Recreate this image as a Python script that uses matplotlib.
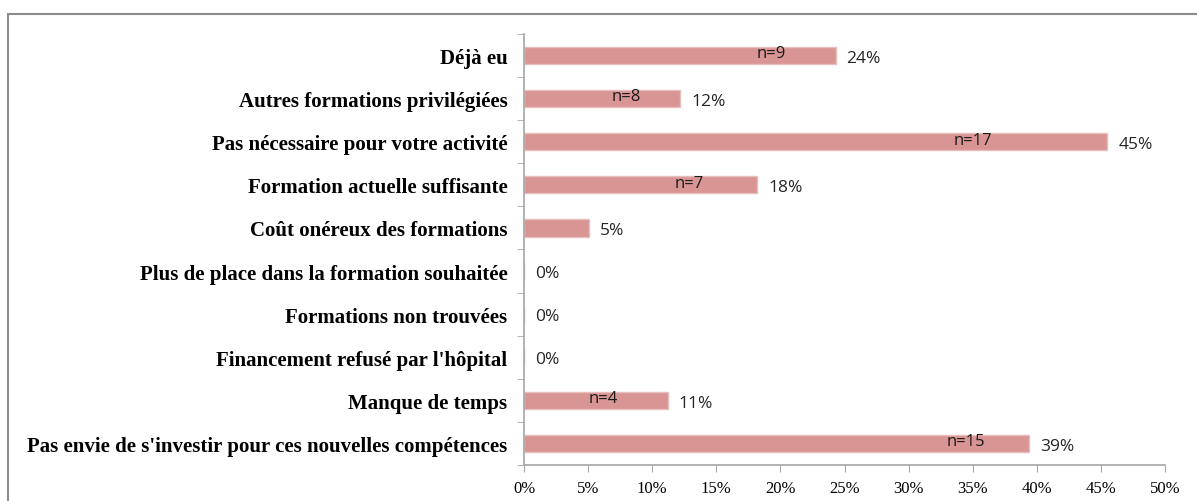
import matplotlib.pyplot as plt
from matplotlib.patches import Rectangle

# ------------------------------------------------------------------ #
# Data
# ------------------------------------------------------------------ #
categories = [
    "Déjà eu",
    "Autres formations privilégiées",
    "Pas nécessaire pour votre activité",
    "Formation actuelle suffisante",
    "Coût onéreux des formations",
    "Plus de place dans la formation souhaitée",
    "Formations non trouvées",
    "Financement refusé par l'hôpital",
    "Manque de temps",
    "Pas envie de s'investir pour ces nouvelles compétences",
]
pct_values = [24.3, 12.2, 45.5, 18.2, 5.1, 0, 0, 0, 11.2, 39.4]
pct_labels = ["24%", "12%", "45%", "18%", "5%", "0%", "0%", "0%", "11%", "39%"]
n_labels = ["n=9", "n=8", "n=17", "n=7", "", "", "", "", "n=4", "n=15"]
# x position (in %) where each "n=" text box sits inside its bar
n_label_x = [19.3, 8.0, 35.0, 12.9, 0, 0, 0, 0, 6.2, 34.5]

x_ticks = list(range(0, 55, 5))

BAR_COLOR = "#D99594"
EDGE_COLOR = "#E8BEBD"
AXIS_COLOR = "#A6A6A6"

fig = plt.figure(figsize=(11.97, 5.02), dpi=100)
ax = fig.add_axes([524 / 1197, 1 - 466 / 502, 641 / 1197, 431 / 502])

ypos = list(range(len(categories)))
ax.barh(ypos, pct_values, height=0.4, color=BAR_COLOR,
        edgecolor=EDGE_COLOR, linewidth=1.0)

for y, v, lab in zip(ypos, pct_values, pct_labels):
    ax.text(v + 0.85, y + 0.05, lab, va="center", ha="left",
            fontsize=12.5, family="Open Sans", color="#262626")

for y, nx, nl in zip(ypos, n_label_x, n_labels):
    if nl:
        ax.text(nx, y - 0.05, nl, va="center", ha="center",
                fontsize=12, family="Open Sans", color="#1a1a1a")

ax.set_xlim(0, 50)
ax.set_ylim(len(categories) - 0.5, -0.5)
ax.set_xticks(x_ticks)
ax.set_xticklabels([f"{t}%" for t in x_ticks], family="Liberation Serif",
                   fontsize=12)

# category labels (no tick marks at centres, ticks at boundaries)
ax.set_yticks(ypos)
ax.set_yticklabels(categories, family="Liberation Serif", fontweight="bold",
                   fontsize=15)
ax.tick_params(axis="y", length=0, pad=12)
ax.set_yticks([i - 0.5 for i in range(len(categories) + 1)], minor=True)
ax.tick_params(axis="y", which="minor", length=5, color=AXIS_COLOR,
               direction="out")
ax.tick_params(axis="x", length=5, color=AXIS_COLOR, direction="out", pad=6)

for side in ["top", "right"]:
    ax.spines[side].set_visible(False)
for side in ["left", "bottom"]:
    ax.spines[side].set_color(AXIS_COLOR)
    ax.spines[side].set_linewidth(1.2)

# outer chart frame (runs off the right and bottom edges)
frame = Rectangle((8 / 1197, -0.1), 1.2, 1 - 15 / 502 + 0.1,
                  transform=fig.transFigure, fill=False,
                  edgecolor="#8C8C8C", linewidth=1.5, clip_on=False)
fig.patches.append(frame)

fig.savefig("out.png", dpi=100)
plt.close(fig)
